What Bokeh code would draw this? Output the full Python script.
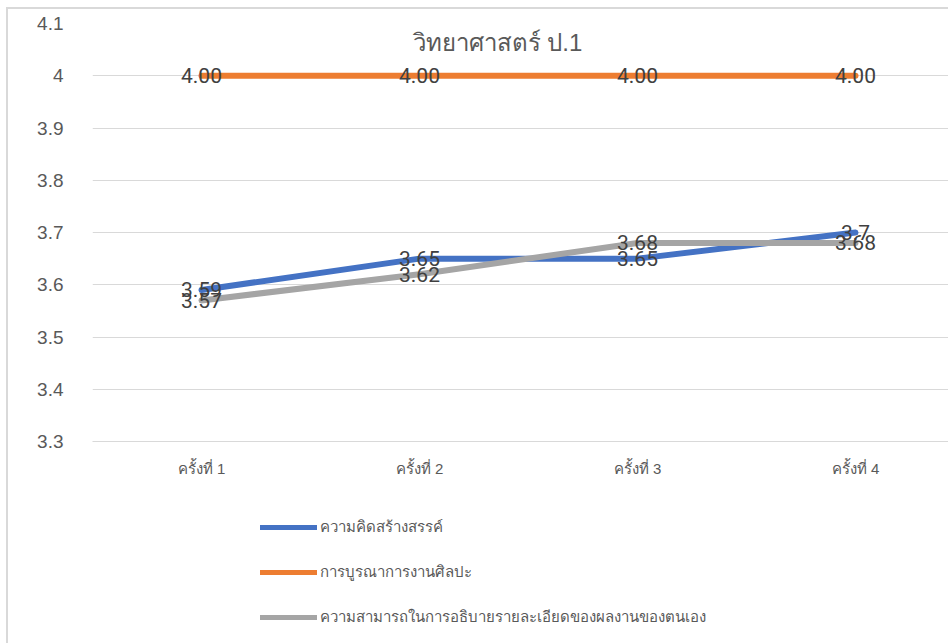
from bokeh.plotting import figure
from bokeh.models import (Range1d, FixedTicker, Label, ColumnDataSource,
                          Legend, LegendItem)
from bokeh.layouts import column
from bokeh.core.properties import value
from bokeh.embed import file_html
from bokeh.resources import INLINE

# ---- data ----
title_text = "วิทยาศาสตร์ ป.1"
categories = ["ครั้งที่ 1", "ครั้งที่ 2", "ครั้งที่ 3", "ครั้งที่ 4"]
series_names = [
    "ความคิดสร้างสรรค์",
    "การบูรณาการงานศิลปะ",
    "ความสามารถในการอธิบายรายละเอียดของผลงานของตนเอง",
]
creativity = [3.59, 3.65, 3.65, 3.70]
integration = [4.00, 4.00, 4.00, 4.00]
explanation = [3.57, 3.62, 3.68, 3.68]
creativity_labels = ["3.59", "3.65", "3.65", "3.7"]
integration_labels = ["4.00", "4.00", "4.00", "4.00"]
explanation_labels = ["3.57", "3.62", "3.68", "3.68"]
y_ticks = [3.3, 3.4, 3.5, 3.6, 3.7, 3.8, 3.9, 4.0, 4.1]
y_tick_labels = ["3.3", "3.4", "3.5", "3.6", "3.7", "3.8", "3.9", "4", "4.1"]

colors = ["#4472C4", "#ED7D31", "#A5A5A5"]
series_values = [creativity, integration, explanation]
series_labels = [creativity_labels, integration_labels, explanation_labels]

xs = list(range(1, len(categories) + 1))

W = 940                  # canvas width (page offset 8,9 via CSS margin + border)
H1, H2 = 472, 162
left, top, bottom = 84, 14, 40
frame_w = W - left
band = 218.0

p = figure(width=W, height=H1, output_backend="svg", toolbar_location=None,
           x_range=Range1d(0.5, 0.5 + frame_w / band),
           y_range=Range1d(3.3, 4.1),
           min_border_left=left, min_border_right=0,
           min_border_top=top, min_border_bottom=bottom)
p.outline_line_color = None
p.background_fill_color = "white"
p.border_fill_color = "white"

p.xgrid.grid_line_color = None
p.ygrid.grid_line_color = "#D9D9D9"
p.ygrid.grid_line_width = 1
p.ygrid.ticker = FixedTicker(ticks=y_ticks)

# axes
p.xaxis.ticker = FixedTicker(ticks=xs)
p.xaxis.major_label_overrides = {x: c for x, c in zip(xs, categories)}
p.xaxis.axis_line_color = "#D9D9D9"
p.xaxis.axis_line_width = 1
p.xaxis.major_tick_line_color = None
p.xaxis.minor_tick_line_color = None
p.xaxis.major_label_text_font_size = "15px"
p.xaxis.major_label_text_color = "#595959"
p.xaxis.major_label_standoff = 12

p.yaxis.ticker = FixedTicker(ticks=y_ticks)
p.yaxis.major_label_overrides = {t: l for t, l in zip(y_ticks, y_tick_labels)}
p.yaxis.axis_line_color = None
p.yaxis.major_tick_line_color = None
p.yaxis.minor_tick_line_color = None
p.yaxis.major_label_text_font = "Liberation Sans"
p.yaxis.major_label_text_font_size = "19px"
p.yaxis.major_label_text_color = "#595959"
p.yaxis.major_label_standoff = 23

# lines
for vals, col in zip(series_values, colors):
    p.line(xs, vals, line_width=6, line_color=col, line_cap="round",
           line_join="round")

# data labels
for vals, labs in zip(series_values, series_labels):
    src = ColumnDataSource(dict(x=xs, y=vals, t=labs))
    p.text(x="x", y="y", text="t", source=src, text_align="center",
           text_baseline="middle", text_font_size="21px",
           text_font=value("Roboto"), text_color="#404040")

# title inside plot
p.add_layout(Label(x=405, y=399, x_units="screen", y_units="screen",
                   text=title_text, text_align="center", text_baseline="middle",
                   text_font_size="24px", text_color="#595959"))

# ---- legend figure (its frame covers the whole canvas) ----
q = figure(width=W, height=H2, output_backend="svg", toolbar_location=None,
           x_range=Range1d(0, 1), y_range=Range1d(0, 1),
           x_axis_type=None, y_axis_type=None,
           min_border=0, min_border_left=0, min_border_right=0,
           min_border_top=0, min_border_bottom=0)
q.outline_line_color = None
q.xgrid.grid_line_color = None
q.ygrid.grid_line_color = None
legend_renderers = []
for vals, col in zip(series_values, colors):
    # same series, outside this panel's ranges: only used as legend swatches
    r = q.line(xs, vals, line_width=5, line_color=col, line_cap="round")
    legend_renderers.append(r)

lg = Legend(items=[LegendItem(label=n, renderers=[r])
                   for n, r in zip(series_names, legend_renderers)],
            location=(168, 11), orientation="vertical",
            glyph_width=57, glyph_height=30, label_height=30,
            label_standoff=3, spacing=15, padding=0, margin=0,
            border_line_color=None, background_fill_alpha=0,
            label_text_font_size="15px", label_text_color="#595959")
q.add_layout(lg, "center")

layout = column(p, q, spacing=0)
layout.styles = {"margin-left": "6px", "margin-top": "7px",
                 "border-left": "2px solid #D9D9D9",
                 "border-top": "2px solid #D9D9D9"}

open("out.html", "w").write(file_html(layout, INLINE))
